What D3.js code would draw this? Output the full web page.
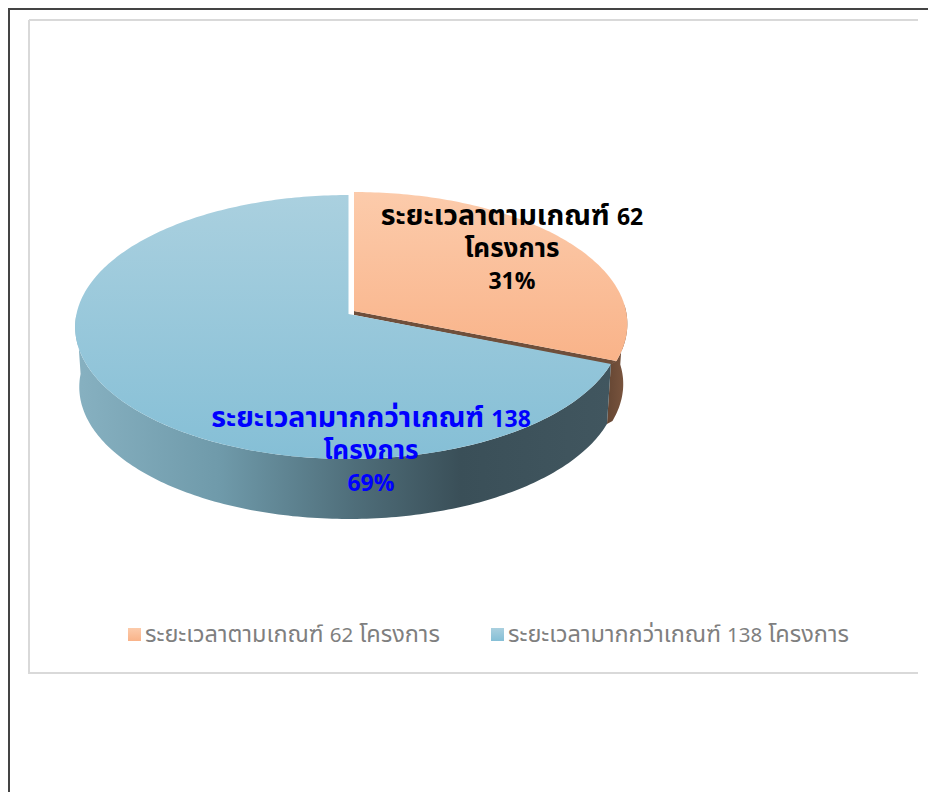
<!DOCTYPE html>
<html>
<head>
<meta charset="utf-8">
<script src="https://cdn.jsdelivr.net/npm/d3@7"></script>
<style>
html, body { margin: 0; padding: 0; background: #fff; }
svg { display: block; }
text { font-family: "Noto Sans Thai", "Noto Sans", "DejaVu Sans", sans-serif; }
</style>
</head>
<body>
<script>
var w = 928;
var h = 792;

var categories = ["ระยะเวลาตามเกณฑ์", "ระยะเวลามากกว่าเกณฑ์"];
var counts = [62, 138];
var percents = ["31%", "69%"];
var unit = "โครงการ";

var svg = d3.select("body").append("svg").attr("width", w).attr("height", h);
var defs = svg.append("defs");

function gradient(id, x1, y1, x2, y2, stops) {
    var g = defs.append("linearGradient").attr("id", id)
        .attr("x1", x1).attr("y1", y1).attr("x2", x2).attr("y2", y2);
    stops.forEach(s => g.append("stop").attr("offset", s[0]).attr("stop-color", s[1]));
}
gradient("orangeTop", 0, 0, 0, 1, [[0, "#fccbab"], [1, "#f9b389"]]);
gradient("blueTop", 0, 0, 0, 1, [[0, "#aad0df"], [1, "#85bfd6"]]);
gradient("blueWall", 0, 0, 1, 0, [[0, "#87b1c1"], [0.27, "#6f9aaa"], [0.52, "#4f6e7a"], [0.72, "#3a4f58"], [1, "#41565f"]]);
gradient("orangeWall", 0, 0, 1, 0, [[0, "#654633"], [1, "#7d5740"]]);

// page frame and chart frame
svg.append("path").attr("d", "M9,792V9H928").attr("fill", "none").attr("stroke", "#444").attr("stroke-width", 2);
svg.append("path").attr("d", "M29,20H918M29,20V673H918").attr("fill", "none").attr("stroke", "#d9d9d9").attr("stroke-width", 2);

var pie = d3.pie().sort(null).value(d => d)(counts);

// tilted disc with a little perspective, so the apex sits above the ellipse centre
var persp = 0.0985;
var radiusX = 272;
var radiusY = 130.7;
var depth = 60;
var bottomScale = 0.985;

function project(apex, angle, drop) {
    var u = Math.sin(angle);
    var v = Math.cos(angle);
    var d = 1 + persp * v;
    var s = drop ? bottomScale : 1;
    return [apex[0] + s * radiusX * u / d, apex[1] - radiusY * v / d + (drop ? depth : 0)];
}

function arcPoints(apex, a0, a1, drop) {
    var n = Math.ceil(Math.abs(a1 - a0) * 60);
    return d3.range(n + 1).map(i => project(apex, a0 + (a1 - a0) * i / n, drop));
}

var line = d3.line();
var apexes = [[354, 311], [348.5, 314]];

// orange wall on the right, closed against the corner of the blue wall
var wallStart = Math.PI / 2 - 0.05;
svg.append("path")
    .attr("d", line(arcPoints(apexes[0], wallStart, pie[0].endAngle, false)
        .concat([project(apexes[1], pie[1].startAngle, false), project(apexes[1], pie[1].startAngle, true)])
        .concat(arcPoints(apexes[0], pie[0].endAngle, wallStart, true))) + "Z")
    .attr("fill", "url(#orangeWall)");

// blue wall: from the corner by the orange slice round the front to the left extreme
var frontEnd = Math.PI * 1.5;
svg.append("path")
    .attr("d", line(arcPoints(apexes[1], pie[1].startAngle, frontEnd, false)
        .concat(arcPoints(apexes[1], frontEnd, pie[1].startAngle, true))) + "Z")
    .attr("fill", "url(#blueWall)");

// thin cut face under the orange slice
var cutEnd = project(apexes[0], pie[0].endAngle, false);
svg.append("path")
    .attr("d", line([apexes[0], cutEnd, [cutEnd[0] - 6, cutEnd[1] + 4], [apexes[0][0], apexes[0][1] + 4]]) + "Z")
    .attr("fill", "#6f4f3b");

// top faces
pie.forEach((p, i) => {
    svg.append("path")
        .attr("d", line([apexes[i]].concat(arcPoints(apexes[i], p.startAngle, p.endAngle, false))) + "Z")
        .attr("fill", i == 0 ? "url(#orangeTop)" : "url(#blueTop)");
});

// the Thai face runs narrower than the original, the digits wider, so size them apart
function addRuns(t, s, thaiSize, digitSize) {
    s.split(/([0-9%]+)/).filter(r => r != "").forEach(r => {
        t.append("tspan")
            .attr("font-size", /[0-9]/.test(r) ? digitSize : thaiSize)
            .text(r);
    });
}

// data labels
var labelX = [512, 371];
var labelY = [225, 427];
var labelColor = ["#000", "#0000ff"];
categories.forEach((c, i) => {
    var t = svg.append("text")
        .attr("text-anchor", "middle")
        .attr("font-weight", "bold")
        .attr("fill", labelColor[i]);
    [c + " " + counts[i], unit, percents[i]].forEach((s, k) => {
        var row = t.append("tspan").attr("x", labelX[i]).attr("y", labelY[i] + k * 32);
        addRuns(row, s, k == 0 ? 28.5 : 26, 23);
    });
});

// legend
var legendX = [128, 491];
categories.forEach((c, i) => {
    svg.append("rect").attr("x", legendX[i]).attr("y", 628).attr("width", 13).attr("height", 13)
        .attr("fill", i == 0 ? "url(#orangeTop)" : "url(#blueTop)");
    var t = svg.append("text").attr("x", legendX[i] + 17).attr("y", 642).attr("fill", "#7f7f7f");
    addRuns(t, c + " " + counts[i] + " " + unit, 23.5, 20.5);
});
</script>
</body>
</html>
